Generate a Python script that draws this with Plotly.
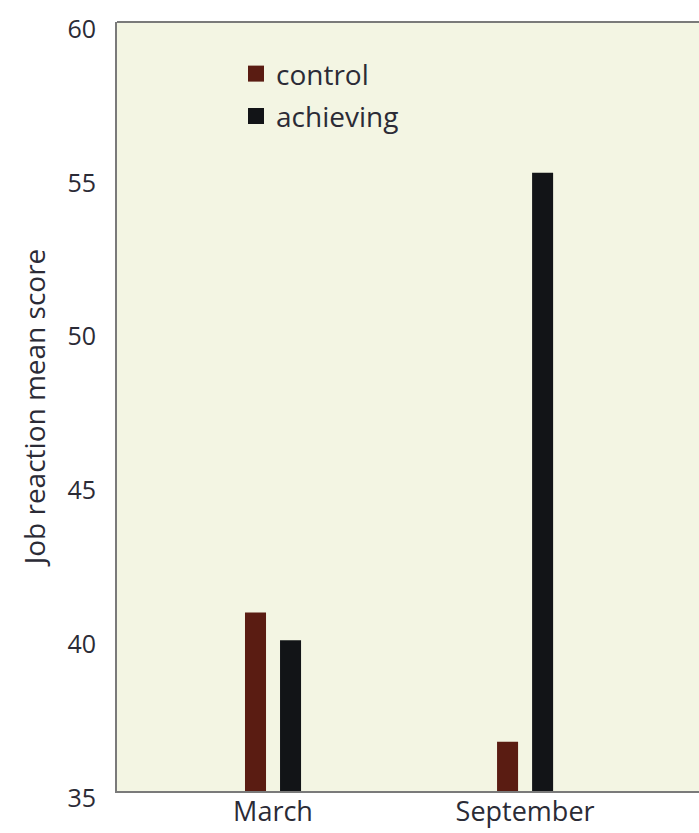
import plotly.graph_objects as go

# Job reaction mean scores by survey month
months = ["March", "September"]
control = [40.8, 36.6]
achieving = [39.9, 55.1]

series_names = ["control", "achieving"]
series_colors = ["#5a1c12", "#121417"]

FONT = "Open Sans"
TEXT = "#2b2b36"
AXIS = "#7a7a7a"

fig = go.Figure()

for name, vals, col in zip(series_names, [control, achieving], series_colors):
    fig.add_trace(go.Bar(
        x=months, y=vals, name=name, marker_color=col,
        marker_line_width=0, showlegend=False,
    ))

# legend swatches as square markers
for name, col in zip(series_names, series_colors):
    fig.add_trace(go.Scatter(
        x=[None], y=[None], mode="markers", name=name,
        marker=dict(symbol="square", size=17, color=col),
        legendgroup=name, showlegend=True,
    ))

# top border of the plotting frame
fig.add_shape(type="line", xref="paper", yref="paper",
              x0=0, x1=1, y0=1, y1=1,
              line=dict(color=AXIS, width=2))

fig.update_layout(
    width=699, height=833,
    margin=dict(l=117, r=0, t=22, b=42, autoexpand=False),
    paper_bgcolor="white",
    plot_bgcolor="#f3f5e3",
    barmode="group",
    bargap=0.722,
    bargroupgap=0.4,
    font=dict(family=FONT, size=28, color=TEXT),
    legend=dict(
        x=0.2045, y=0.965, xanchor="left", yanchor="top",
        bgcolor="rgba(0,0,0,0)", font=dict(size=28, color=TEXT),
        tracegroupgap=3, itemwidth=30,
    ),
    xaxis=dict(
        type="category", range=[-0.619, 1.69], automargin=False,
        showline=True, linecolor=AXIS, linewidth=2,
        showgrid=False, ticks="", zeroline=False,
        tickfont=dict(size=27, color=TEXT),
        ticklabelstandoff=-4,
    ),
    yaxis=dict(
        range=[35, 60], tickvals=[35, 40, 45, 50, 55, 60], automargin=False,
        showline=True, linecolor=AXIS, linewidth=2,
        showgrid=False, ticks="", zeroline=False,
        tickfont=dict(size=25, color=TEXT),
        ticklabelstandoff=14, ticklabelshift=7,
        title=dict(text="Job reaction mean score", standoff=14,
                   font=dict(size=28, color=TEXT)),
    ),
)

fig.write_html("out.html")
